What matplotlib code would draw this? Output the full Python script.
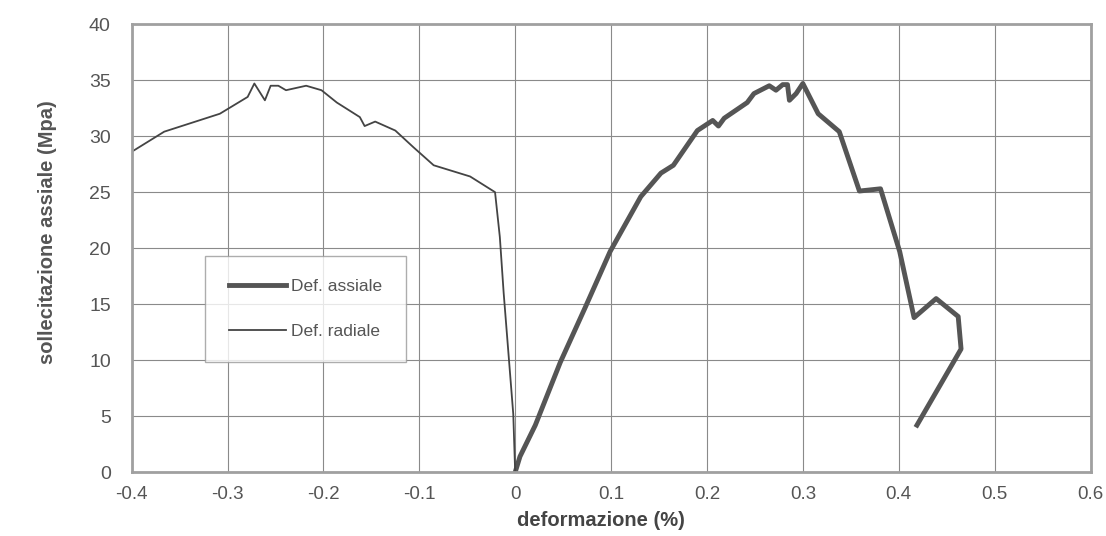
import matplotlib.pyplot as plt

# Def. radiale (thin line)
rad_x = [-0.400, -0.366, -0.308, -0.279, -0.272, -0.261, -0.255, -0.247, -0.239,
         -0.218, -0.202, -0.186, -0.162, -0.157, -0.146, -0.125, -0.106, -0.085,
         -0.047, -0.021, -0.016, -0.012, -0.007, -0.002, 0.0]
rad_y = [28.6, 30.4, 32.0, 33.5, 34.7, 33.2, 34.5, 34.5, 34.1,
         34.5, 34.1, 33.0, 31.7, 30.9, 31.3, 30.5, 29.0, 27.4,
         26.4, 25.0, 21.0, 16.0, 10.6, 5.2, 0.0]

# Def. assiale (thick line)
ax_x = [0.0, 0.005, 0.021, 0.047, 0.073, 0.099, 0.131, 0.152, 0.165, 0.190, 0.206, 0.212,
        0.218, 0.242, 0.249, 0.265, 0.272, 0.279, 0.284, 0.286, 0.293, 0.300,
        0.316, 0.338, 0.359, 0.381, 0.401, 0.416, 0.439, 0.462, 0.465, 0.419]
ax_y = [0.0, 1.4, 4.2, 9.8, 14.7, 19.7, 24.6, 26.7, 27.4, 30.5, 31.4, 30.9,
        31.6, 33.0, 33.8, 34.5, 34.1, 34.6, 34.6, 33.2, 33.8, 34.7,
        32.0, 30.4, 25.1, 25.3, 19.7, 13.8, 15.5, 13.9, 11.0, 4.2]

xticks = [-0.4, -0.3, -0.2, -0.1, 0, 0.1, 0.2, 0.3, 0.4, 0.5, 0.6]
xlabels = ['-0.4', '-0.3', '-0.2', '-0.1', '0', '0.1', '0.2', '0.3', '0.4', '0.5', '0.6']
yticks = [0, 5, 10, 15, 20, 25, 30, 35, 40]

plt.rcParams['font.family'] = ['Liberation Sans', 'DejaVu Sans']

fig = plt.figure(figsize=(11.06, 5.36), dpi=100)
ax = fig.add_axes([0.119, 0.119, 0.867, 0.836])

ax.plot(ax_x, ax_y, color='#555555', lw=3.5, label='Def. assiale')
ax.plot(rad_x, rad_y, color='#444444', lw=1.3, label='Def. radiale')

ax.set_xlim(-0.4, 0.6)
ax.set_ylim(0, 40)
ax.set_xticks(xticks)
ax.set_xticklabels(xlabels)
ax.set_yticks(yticks)
ax.grid(True, color='#8a8a8a', lw=0.8)
ax.set_axisbelow(True)
for s in ax.spines.values():
    s.set_color('#a0a0a0')
    s.set_linewidth(2)
ax.tick_params(length=0, labelcolor='#555555')
ax.tick_params(axis='x', labelsize=13.5, pad=10)
ax.tick_params(axis='y', labelsize=14, pad=15)

ax.set_xlabel('deformazione (%)', fontsize=14.5, color='#444444', fontweight='bold')
ax.xaxis.set_label_coords(0.489, -0.107)
ax.xaxis.label.set_va('center')
ax.set_ylabel('sollecitazione assiale (Mpa)', fontsize=14.5, color='#555555', fontweight='bold')
ax.yaxis.set_label_coords(-0.088, 0.536)
ax.yaxis.label.set_va('center')

leg = ax.legend(loc='upper left', bbox_to_anchor=(0.077, 0.483), frameon=True, fancybox=False,
                edgecolor='#999999', handlelength=3.3, labelspacing=1.7,
                borderpad=1.35, handletextpad=0.3, borderaxespad=0,
                prop={'size': 12.5})
for t in leg.get_texts():
    t.set_color('#555555')

fig.savefig('out.png', dpi=100)
